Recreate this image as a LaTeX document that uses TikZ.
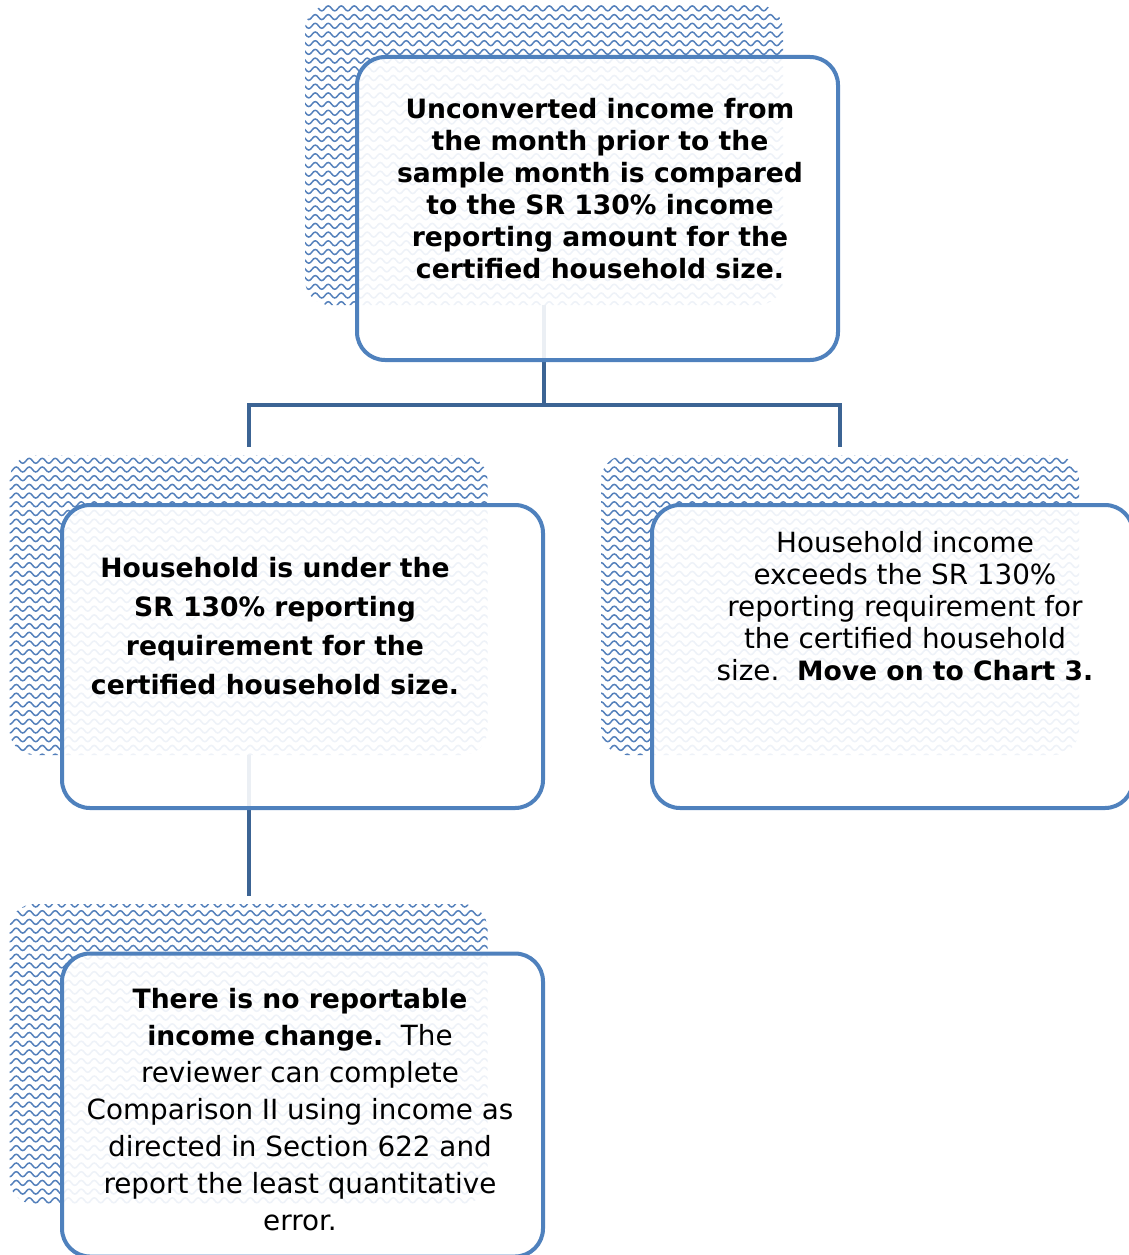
\documentclass[tikz,border=0pt]{standalone}
\usepackage{fontspec}
\setmainfont{DejaVu Sans}
\usetikzlibrary{
  patterns % For the wave filling of the back shapes
}

% Wellenmuster
\pgfdeclarepatternformonly{wavelines}{\pgfpoint{-1pt}{-2pt}}{\pgfpoint{14pt}{8pt}}{\pgfpoint{13pt}{8.7pt}}{%
  \pgfsetlinewidth{1.5pt}
  \pgfpathmoveto{\pgfpoint{0pt}{2.5pt}}
  \pgfpathcurveto{\pgfpoint{2.2pt}{5.8pt}}{\pgfpoint{4.3pt}{5.8pt}}{\pgfpoint{6.5pt}{2.5pt}}
  \pgfpathcurveto{\pgfpoint{8.7pt}{-0.8pt}}{\pgfpoint{10.8pt}{-0.8pt}}{\pgfpoint{13pt}{2.5pt}}
  \pgfusepath{stroke}
}

\definecolor{wavecol}{RGB}{84,128,187}
\definecolor{boxcol}{RGB}{79,129,189}
\definecolor{linkcol}{RGB}{60,100,148}

\newcommand\boldboxfont{\fontsize{26.6}{32}\selectfont\bfseries}
\newcommand\plainboxfont{\fontsize{27.8}{32}\selectfont}

\begin{document}
\begin{tikzpicture}[
      x=1pt, y=-1pt, % Pixel-like units, y downwards
      backbox/.style={minimum width=478pt, minimum height=300pt, rounded corners=25pt,
        pattern=wavelines, pattern color=wavecol, inner sep=0pt}, % Patterned shapes behind
      frontbox/.style={draw=boxcol, line width=4pt, fill=white, fill opacity=0.9,
        minimum width=481pt, minimum height=303pt, rounded corners=28pt, inner sep=0pt}, % Front boxes
      linkline/.style={draw=linkcol, line width=4pt}, % Style for connectors
      boxtext/.style={align=center, text=black, inner sep=0pt}, % Style for box texts
    ]

    \useasboundingbox (0,0) rectangle (1129,1255);

    % Hintergrundformen
    \node[backbox] (b1) at (544,155) {};
    \node[backbox] (b2) at (248.5,605) {};
    \node[backbox] (b3) at (840,605) {};
    \node[backbox] (b4) at (248.5,1054) {};

    % Verbindungen
    \draw[linkline, shorten >=8pt] (b1.south) -- ++(0,100) -| (b2.north);
    \draw[linkline, shorten >=8pt] (b1.south) -- ++(0,100) -| (b3.north);
    \draw[linkline, shorten >=8pt] (b2.south) -- (b4.north);

    % Vordere Kästen
    \node[frontbox] (f1) at (597.5,208.5) {};
    \node[frontbox] (f2) at (302.5,656.5) {};
    \node[frontbox] (f3) at (892.5,656.5) {};
    \node[frontbox] (f4) at (302.5,1105) {};

    % Texte
    \node[boxtext, font=\boldboxfont] (t1) at (600,189)
    {Unconverted income from\\ the month prior to the\\ sample month is compared\\
     to the SR 130\% income\\ reporting amount for the\\ certified household size.};
    \node[boxtext, font=\boldboxfont\fontsize{26.6}{39}\selectfont] (t2) at (275,626)
    {Household is under the\\ SR 130\% reporting\\ requirement for the\\ certified household size.};
    \node[boxtext, font=\plainboxfont] (t3) at (905,606)
    {Household income\\ exceeds the SR 130\%\\ reporting requirement for\\ the certified household\\
     size.\ \ {\fontsize{26.6}{32}\selectfont\bfseries Move on to Chart 3.}};
    \node[boxtext, font=\fontsize{27.8}{37}\selectfont] (t4) at (300,1110)
    {{\boldboxfont There is no reportable}\\ {\boldboxfont income change.}\ \ The\\ reviewer can complete\\
     Comparison II using income as\\ directed in Section 622 and\\ report the least quantitative\\ error.};

  \end{tikzpicture}
\end{document}
